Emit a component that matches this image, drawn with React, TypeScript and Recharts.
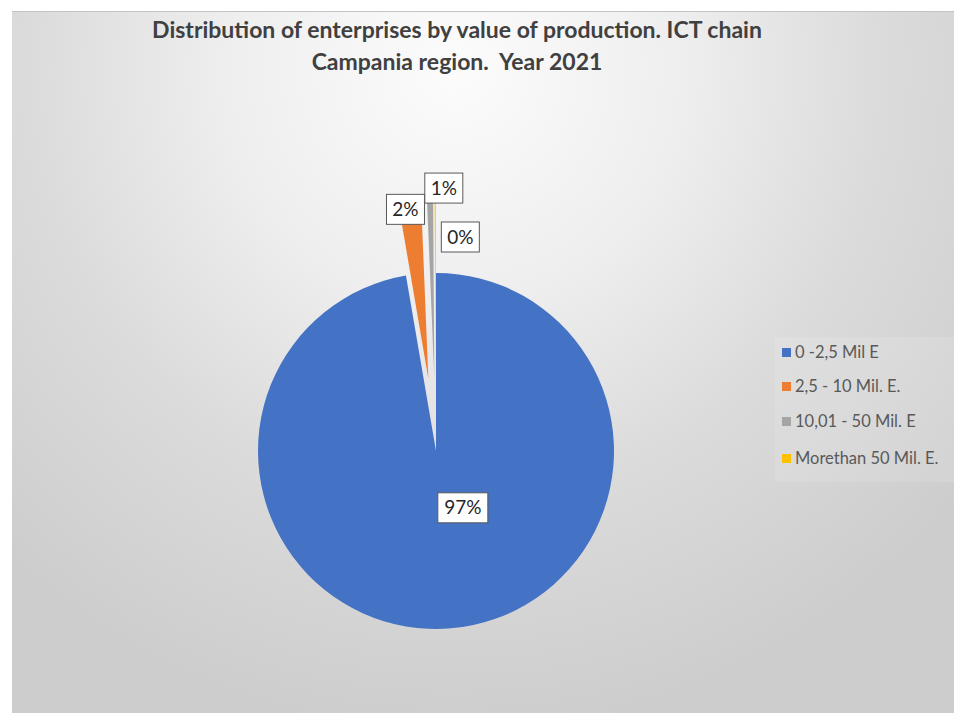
import { PieChart, Pie, Cell } from "recharts";

const CATEGORIES = ["0 -2,5 Mil E", "2,5 - 10 Mil. E.", "10,01 - 50 Mil. E", "Morethan 50 Mil. E."];
const SHARES = [97.3, 2.05, 0.55, 0.1];
const COLORS = ["#4472C4", "#ED7D31", "#A5A5A5", "#FFC000"];
const EXPLODED = [false, true, true, true];

// label placement: distance from centre along the slice mid angle, plus a nudge
const LABEL_R = [57, 243, 263, 214];
const LABEL_DX = [22, -5, 14, 25];

const W = 942;
const H = 702;
const CX = 424;
const CY = 439;
const R = 178;
const EXPLODE = 73;

const data = CATEGORIES.map((name, i) => ({ name, value: SHARES[i] }));
const total = SHARES.reduce((a, b) => a + b, 0);

const RAD = Math.PI / 180;
function polar(r: number, angle: number) {
  return { x: r * Math.cos(-angle * RAD), y: r * Math.sin(-angle * RAD) };
}

// mid angle of each slice, start at 12 o'clock going clockwise
const midAngles: number[] = [];
{
  let cum = 0;
  SHARES.forEach((v) => {
    const a = (v / total) * 360;
    midAngles.push(90 - cum - a / 2);
    cum += a;
  });
}

const renderLabel = (props: any) => {
  const { cx, cy, midAngle, index } = props;
  const p = polar(LABEL_R[index], midAngle);
  const x = cx + p.x + LABEL_DX[index];
  const y = cy + p.y;
  const text = `${Math.round((SHARES[index] / total) * 100)}%`;
  const w = text.length * 12 + 14;
  return (
    <g key={`lbl-${index}`}>
      <rect x={x - w / 2} y={y - 15} width={w} height={30} fill="#ffffff" stroke="#595959" strokeWidth={1} />
      <text x={x} y={y + 6.5} textAnchor="middle" fontSize={19} fontFamily="Lato, 'Open Sans', sans-serif" fill="#262626">
        {text}
      </text>
    </g>
  );
};

export default function App() {
  return (
    <div style={{ position: "fixed", left: 0, top: 0, width: 954, height: 713, background: "#ffffff", overflow: "hidden" }}>
      <div
        style={{
          position: "absolute",
          left: 12,
          top: 11,
          width: W,
          height: H,
          borderTop: "1px solid #c4c4c4",
          background:
            "radial-gradient(ellipse 70% 95% at 47% 8%, #fcfcfc 0%, #eeeeee 35%, #dbdbdb 65%, #cdcdcd 100%)",
          fontFamily: "Lato, 'Open Sans', sans-serif",
        }}
      >
        {/* title */}
        <div
          style={{
            position: "absolute",
            left: 0,
            top: 1,
            width: 890,
            textAlign: "center",
            fontSize: 23,
            fontWeight: 700,
            color: "#404040",
            lineHeight: "32px",
          }}
        >
          Distribution of enterprises by value of production. ICT chain
          <br />
          Campania region.&nbsp; Year 2021
        </div>

        <PieChart width={W} height={H} margin={{ top: 0, right: 0, bottom: 0, left: 0 }} style={{ position: "absolute", left: 0, top: 0 }}>
          <Pie
            data={data}
            dataKey="value"
            nameKey="name"
            cx={CX}
            cy={CY}
            outerRadius={R}
            startAngle={90}
            endAngle={-270}
            stroke="none"
            isAnimationActive={false}
            labelLine={false}
            label={renderLabel}
          >
            {data.map((_, i) => (
              <Cell key={i} fill={EXPLODED[i] ? "transparent" : COLORS[i]} />
            ))}
          </Pie>
          {data.map((_, k) => {
            if (!EXPLODED[k]) return null;
            const off = polar(EXPLODE, midAngles[k]);
            return (
              <Pie
                key={`ex-${k}`}
                data={data}
                dataKey="value"
                cx={CX + off.x}
                cy={CY + off.y}
                outerRadius={R}
                startAngle={90}
                endAngle={-270}
                stroke="none"
                isAnimationActive={false}
              >
                {data.map((_, i) => (
                  <Cell key={i} fill={i === k ? COLORS[i] : "transparent"} />
                ))}
              </Pie>
            );
          })}
        </PieChart>

        {/* legend */}
        <div
          style={{
            position: "absolute",
            left: 763,
            top: 325,
            width: 179,
            height: 145,
            background: "rgba(255,255,255,0.12)",
          }}
        >
          {CATEGORIES.map((c, i) => (
            <div
              key={c}
              style={{
                position: "absolute",
                left: 7,
                top: [5, 39, 74, 111][i],
                display: "flex",
                alignItems: "center",
                whiteSpace: "nowrap",
                fontSize: 16.5,
                color: "#595959",
              }}
            >
              <span style={{ width: 9, height: 9, background: COLORS[i], marginRight: 4, display: "inline-block" }} />
              {c}
            </div>
          ))}
        </div>
      </div>
    </div>
  );
}
